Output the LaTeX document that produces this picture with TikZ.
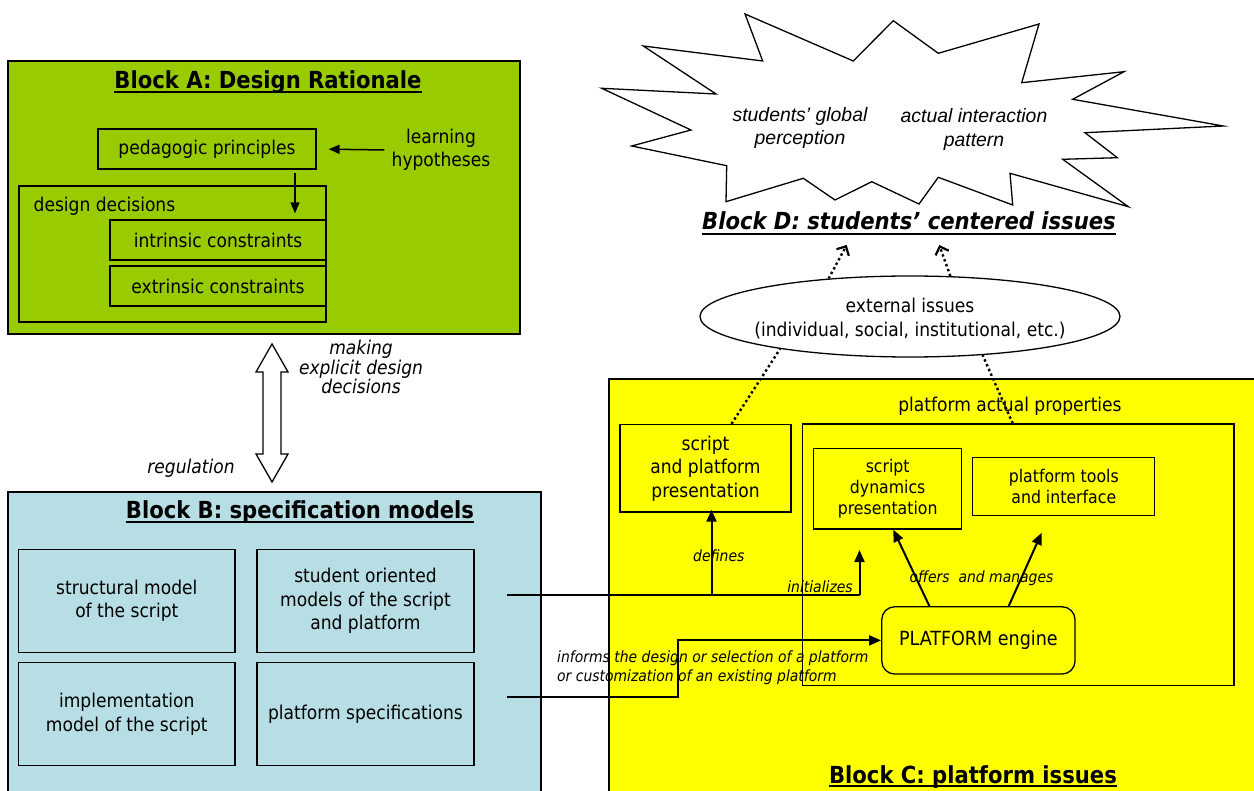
\documentclass[tikz,border=0pt]{standalone}
\usepackage{fontspec}
\setmainfont{DejaVu Sans Condensed}
\newfontfamily\arialf{Liberation Sans}
\usetikzlibrary{arrows.meta,calc,shapes.geometric}
\definecolor{blockA}{RGB}{153,204,0}
\definecolor{blockB}{RGB}{183,222,228}
\definecolor{blockC}{RGB}{255,255,0}
\tikzset{
 blk/.style={draw, line width=1.3pt, inner sep=0},
 bx/.style={draw, line width=1.3pt, inner sep=0, align=center, font=\fontsize{19}{23.5}\selectfont},
 sbx/.style={draw, line width=1.3pt, inner sep=0, align=center, font=\fontsize{17.5}{21}\selectfont},
 ttl/.style={inner sep=0, font=\fontsize{23.5}{28}\selectfont\bfseries},
 lbl/.style={inner sep=0, align=center, font=\fontsize{19}{23.5}\selectfont},
 ilbl/.style={inner sep=0, align=left, font=\fontsize{15.5}{19}\selectfont\itshape},
 starlbl/.style={inner sep=0, align=center, font=\arialf\fontsize{19.4}{23.3}\selectfont\itshape},
 conn/.style={line width=2pt, -{Triangle[length=12pt,width=10pt]}},
 thinconn/.style={line width=1.5pt, -{Triangle[length=11pt,width=9pt]}},
 dots/.style={line width=2.4pt, dash pattern=on 2.4pt off 2.8pt, -{Straight Barb[length=7pt,width=14pt,line width=2.2pt]}},
 uline/.style={line width=2pt},
}
\begin{document}
\begin{tikzpicture}[x=1pt,y=-1pt]
\useasboundingbox (0,0) rectangle (1254,791);
\clip (0,0) rectangle (1254,791);
\fill[white] (0,0) rectangle (1254,791);

% ---------- Block A ----------
\node[blk, fill=blockA, minimum width=512, minimum height=273] (A) at (264,197.5) {};
\node[ttl, anchor=base] (tA) at (268,89) {Block A: Design Rationale};
\draw[uline] ([yshift=-3]tA.base west) -- ([yshift=-3]tA.base east);
\node[bx, minimum width=218, minimum height=40] (ped) at (207,149) {pedagogic principles};
\node[lbl, inner xsep=7] (lh) at (441,150) {learning\\hypotheses};
\node[blk, minimum width=307, minimum height=136] (dd) at (172.5,254) {};
\node[lbl, anchor=west] (ddl) at (33.5,206) {design decisions};
\node[bx, minimum width=216, minimum height=40] (intr) at (218,240) {intrinsic constraints};
\node[bx, minimum width=216, minimum height=40] (extr) at (218,286) {extrinsic constraints};
\draw[thinconn, shorten >=12pt] (lh.west) -- (ped.east);
\draw[thinconn, shorten <=3.5pt, shorten >=6pt] ([xshift=88]ped.south) -- ([xshift=88]ped.south |- intr.north);

% ---------- Block B ----------
\node[blk, fill=blockB, minimum width=533, minimum height=308] (B) at (274.5,646) {};
\node[ttl, anchor=base] (tB) at (300,519) {Block B: specification models};
\draw[uline] ([yshift=-3]tB.base west) -- ([yshift=-3]tB.base east);
\node[bx, minimum width=216.5, minimum height=103] (st) at (126.8,600.8) {structural model\\of the script};
\node[bx, minimum width=217, minimum height=103] (so) at (365.5,600.8) {student oriented\\models of the script\\and platform};
\node[bx, minimum width=216.5, minimum height=103] (im) at (126.8,714.2) {implementation\\model of the script};
\node[bx, minimum width=217, minimum height=103] (ps) at (365.5,714.2) {platform specifications};

% ---------- double arrow A <-> B ----------
\draw[line width=1.3pt, fill=white] (272,344) -- (288,372) -- (281,372) -- (281,454) -- (288,454) -- (272,482)
  -- (256,454) -- (263,454) -- (263,372) -- (256,372) -- cycle;
\node[inner sep=0, align=center, font=\fontsize{19}{18}\selectfont\itshape] (mk) at (361,367) {making\\explicit design\\decisions};
\node[inner sep=0, font=\fontsize{19}{23}\selectfont\itshape] (reg) at (191,468) {regulation};

% ---------- Block C ----------
\node[blk, fill=blockC, minimum width=651, minimum height=421] (C) at (934.5,589.5) {};
\node[ttl, anchor=base] (tC) at (973,783) {Block C: platform issues};
\draw[uline] ([yshift=-3]tC.base west) -- ([yshift=-3]tC.base east);
\node[lbl] (papl) at (1010,406) {platform actual properties};
\node[bx, minimum width=171, minimum height=87.5] (spp) at (705.5,468.3) {script\\and platform\\presentation};
\node[blk, minimum width=431.3, minimum height=261.7] (pap) at (1018.4,554.9) {};
\node[sbx, minimum width=148, minimum height=80.7] (sd) at (887.7,488.7) {script\\dynamics\\presentation};
\node[sbx, minimum width=182, minimum height=58] (pt) at (1063.8,486.3) {platform tools\\and interface};
\node[bx, rounded corners=13pt, minimum width=193.3, minimum height=67.3, font=\fontsize{19.5}{23.5}\selectfont] (eng) at (978.4,640.4) {PLATFORM engine};

% connectors from Block B to Block C
\coordinate (s1) at (507,594.7);
\coordinate (s2) at (507,696.7);
\coordinate (ini) at (859.5,550);
\coordinate (brk) at (678,696.7);
\draw[line width=2pt] (s1) -- (ini |- s1);
\draw[conn] (ini |- s1) -- (ini);
\draw[conn, shorten >=-3pt] ([xshift=6]spp.south |- s1) -- ([xshift=6]spp.south);
\draw[conn] (s2) -- (brk) -- (brk |- eng.west) -- (eng.west);
\node[ilbl] (def) at (718.8,556) {defines};
\node[ilbl] (inil) at (820,587) {initializes};
\node[ilbl, anchor=west] (inf) at (557,667.5) {informs the design or selection of a platform\\or customization of an existing platform};

% engine arrows
\coordinate (ptt) at (1041.7,532.7);
\draw[conn] ([xshift=48.3]eng.north west) -- ([xshift=5.6]sd.south);
\draw[conn] ([xshift=127.6]eng.north west) -- (ptt);
\node[ilbl] (om) at (981.5,578) {offers\ \ and manages};

% ---------- external issues ----------
\node[ellipse, draw, line width=1.3pt, fill=white, minimum width=420, minimum height=81, inner sep=0] (ext) at (910,316.5) {};
\node[lbl] (extl) at (910,318.3) {external issues\\(individual, social, institutional, etc.)};

% ---------- Block D (starburst) ----------
\draw[line width=1.3pt, fill=white] (601.7,88.3) -- (716,94) -- (643.3,46) -- (762.7,61) -- (745,14) -- (853.3,61)
  -- (893.3,20.7) -- (938.3,53.3) -- (1039,24) -- (1021.7,82.7) -- (1124,71.7) -- (1072.7,99.3) -- (1223.3,126)
  -- (1085,132.7) -- (1117.3,157.7) -- (1062.7,159.3) -- (1128.3,206.7) -- (1010,173.3) -- (1012.7,205)
  -- (938.3,177.3) -- (919,204) -- (871.7,181.7) -- (835,200) -- (803.3,178.3) -- (726,201.7) -- (726.7,165.7)
  -- (631.7,146) -- (691,130) -- cycle;
\node[starlbl] (sgp) at (800,128.3) {students’ global\\perception};
\node[starlbl] (aip) at (974,129.5) {actual interaction\\pattern};
\node[ttl, anchor=base, font=\fontsize{23.5}{28}\selectfont\bfseries\itshape] (tD) at (909,230) {Block D: students’ centered issues};
\draw[uline] ([yshift=-4]tD.base west) -- ([yshift=-4]tD.base east);

% dotted arrows
\coordinate (dl) at (846.7,245);
\coordinate (dr) at (939.3,245);
\draw[dots, -] ([xshift=26]spp.north) -- (ext.194);
\draw[dots] (ext.155) -- (dl);
\draw[dots, -] ([xshift=-5.7]pap.north) -- (ext.-28);
\draw[dots] (ext.45) -- (dr);
\end{tikzpicture}
\end{document}
